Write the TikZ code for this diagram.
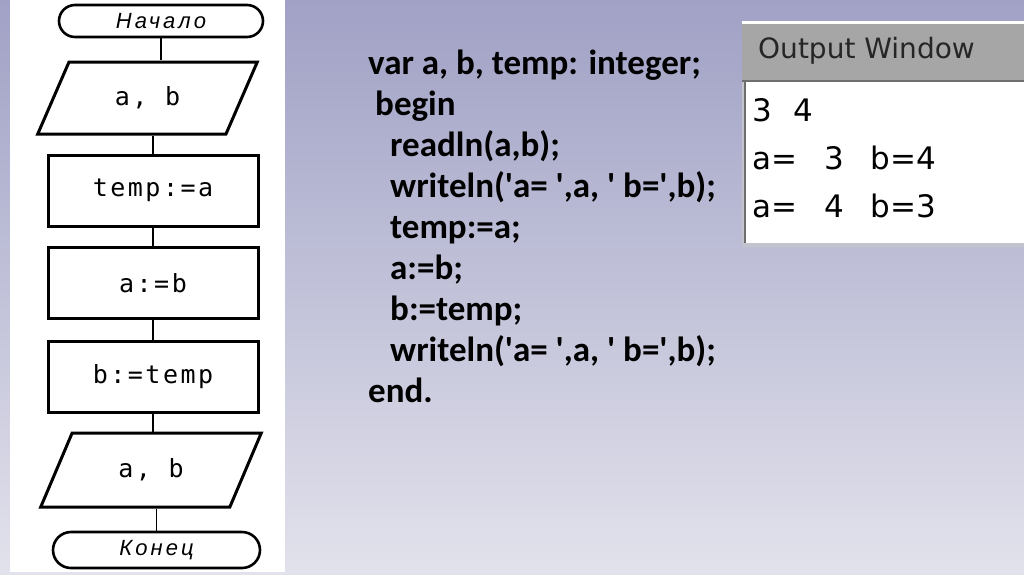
\documentclass[tikz,border=0pt]{standalone}
\usepackage{fontspec}
\setmainfont{Carlito}
\newfontfamily\flowfont{DejaVu Sans Mono}[LetterSpace=10]
\newfontfamily\termfont{Liberation Sans}[LetterSpace=14]
\newfontfamily\winfont{DejaVu Sans}
\newcommand{\qt}{\textquotesingle}
\definecolor{slidetop}{RGB}{160, 161, 197}
\definecolor{slidebot}{RGB}{226, 226, 236}
\definecolor{titlegray}{RGB}{166, 166, 166}
\definecolor{framegray}{RGB}{196, 196, 206}
\definecolor{edgegray}{RGB}{110, 110, 110}
\usepackage{tikz}
\usetikzlibrary{shapes.geometric,shapes.misc,positioning}

\begin{document}
\begin{tikzpicture}[x=1pt, y=-1pt,
    terminal/.style={draw, rounded rectangle, line width=2.6pt, inner sep=0pt,
      font=\termfont\itshape\fontsize{22}{26}\selectfont},
    process/.style={draw, rectangle, line width=3pt, minimum width=210pt, minimum height=71pt,
      inner sep=0pt, font=\flowfont\fontsize{25}{29}\selectfont},
    inout/.style={draw, trapezium, trapezium left angle=60, trapezium right angle=120,
      trapezium stretches=true, line width=3pt, minimum width=221pt, minimum height=72pt,
      inner sep=0pt, font=\flowfont\fontsize{25}{29}\selectfont},
    flowline/.style={line width=1.8pt}]
        % Slide background and white panel
        \shade[top color=slidetop, bottom color=slidebot] (0,0) rectangle (1024,574);
        \useasboundingbox (0,0) rectangle (1024,574);
        \fill[white] (10,0) rectangle (285,572);

        % Flowchart
        \node[terminal, minimum width=204pt, minimum height=32pt] (start) at (161,21) {Начало};
        \node[inout] (in) at (147.5,98) {a, b};
        \node[process] (tmp) at (153,190.5) {temp:=a};
        \node[process] (ab) at (153,283) {a:=b};
        \node[process] (bt) at (153,376.5) {b:=temp};
        \node[inout, minimum width=222pt, minimum height=74pt] (out) at (151,470) {a, b};
        \node[terminal, minimum width=207pt, minimum height=36pt] (stop) at (156.5,550) {Конец};

        \draw[flowline] (start.south) -- (start.south |- in.north);
        \draw[flowline] (tmp.north) -- (tmp.north |- in.south);
        \draw[flowline] (tmp.south) -- (ab.north);
        \draw[flowline] (ab.south) -- (bt.north);
        \draw[flowline] (bt.south) -- (bt.south |- out.north);
        \draw[flowline] (stop.north) -- (stop.north |- out.south);

        % Program text
        \node[anchor=north west, inner sep=0pt, align=left,
          font=\bfseries\fontsize{35}{41}\selectfont] (code) at (368,50)
          {var a, b, temp: integer;\\
           \hspace*{7pt}begin\\
           \hspace*{22pt}readln(a,b);\\
           \hspace*{22pt}writeln(\qt a= \qt,a, \qt\ b=\qt,b);\\
           \hspace*{22pt}temp:=a;\\
           \hspace*{22pt}a:=b;\\
           \hspace*{22pt}b:=temp;\\
           \hspace*{22pt}writeln(\qt a= \qt,a, \qt\ b=\qt,b);\\
           end.};

        % Output window
        \fill[white] (742,21) rectangle (1024,24);
        \fill[titlegray] (742,24) rectangle (1024,82);
        \fill[edgegray] (742,80) rectangle (1024,82);
        \fill[framegray] (742,82) rectangle (746,247);
        \fill[framegray] (742,243) rectangle (1024,247);
        \fill[edgegray] (744,82) rectangle (746,243);
        \fill[white] (746,82) rectangle (1024,243);
        \node[anchor=west, inner sep=0pt, text=black!85,
          font=\winfont\fontsize{28}{32}\selectfont] (wintitle) at (758,51) {Output Window};
        \node[anchor=north west, inner sep=0pt, align=left,
          font=\winfont\fontsize{31}{48}\selectfont] (wintext) at (752,98)
          {3\hspace*{22pt}4\\
           a=\hspace*{27pt}3\hspace*{27pt}b=4\\
           a=\hspace*{27pt}4\hspace*{27pt}b=3};
\end{tikzpicture}
\end{document}
